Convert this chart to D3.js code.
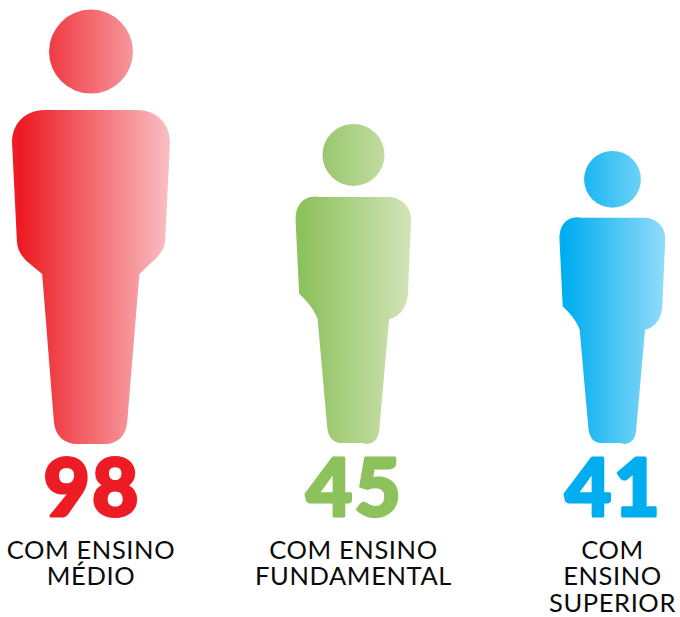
<!DOCTYPE html>
<html>
<head>
<meta charset="utf-8">
<script src="https://cdn.jsdelivr.net/npm/d3@7"></script>
<style>html,body{margin:0;padding:0;background:#fff}svg{display:block}</style>
</head>
<body>
<svg id="c" width="680" height="617"></svg>
<script>
const categories = ["medio", "fundamental", "superior"];
const values = [98, 45, 41];
const labelLines = [["COM ENSINO", "MÉDIO"], ["COM ENSINO", "FUNDAMENTAL"], ["COM", "ENSINO", "SUPERIOR"]];
const inkColors = ["#ed1c24", "#8dc15c", "#00aeef"];
const fadeColors = ["#f9c0c4", "#d2e4b8", "#92dcf9"];

const svg = d3.select("#c");
const baseY = 444;
const x = d3.scaleOrdinal().domain(categories).range([91, 353.5, 612.5]);
// Figure height grows with the value (read off the picture, not strictly proportional)
const h = d3.scaleLinear().domain([41, 45, 98]).range([293, 320, 436]);

// Glyph outlines: origin = bottom centre of a figure, unit = 1/1000 of its height
function glyphBroad(cx, k){
  const X = u => cx + u * k, Y = u => baseY + u * k;
  const p = d3.path();
  p.moveTo(X(-105), Y(-766));
  p.bezierCurveTo(X(-160), Y(-766), X(-182), Y(-725), X(-181), Y(-690));
  p.lineTo(X(-170), Y(-465));
  p.bezierCurveTo(X(-169), Y(-445), X(-160), Y(-432), X(-148), Y(-420));
  p.lineTo(X(-112), Y(-390));
  p.lineTo(X(-85), Y(-50));
  p.bezierCurveTo(X(-82), Y(-18), X(-60), Y(0), X(-32), Y(0));
  p.lineTo(X(32), Y(0));
  p.bezierCurveTo(X(60), Y(0), X(80), Y(-18), X(83), Y(-50));
  p.lineTo(X(111), Y(-390));
  p.lineTo(X(148), Y(-425));
  p.bezierCurveTo(X(160), Y(-437), X(169), Y(-450), X(170), Y(-465));
  p.lineTo(X(181), Y(-690));
  p.bezierCurveTo(X(182), Y(-725), X(160), Y(-766), X(105), Y(-766));
  p.closePath();
  return p.toString();
}
function glyphLean(cx, k){
  const X = u => cx + u * k, Y = u => baseY + u * k;
  const p = d3.path();
  p.moveTo(X(-105), Y(-772));
  p.bezierCurveTo(X(-130), Y(-778), X(-181), Y(-770), X(-181), Y(-700));
  p.lineTo(X(-170), Y(-470));
  p.bezierCurveTo(X(-150), Y(-450), X(-125), Y(-425), X(-112), Y(-390));
  p.lineTo(X(-82), Y(-50));
  p.bezierCurveTo(X(-78), Y(-20), X(-62), Y(-3), X(-40), Y(-3));
  p.lineTo(X(30), Y(-3));
  p.bezierCurveTo(X(40), Y(2), X(50), Y(-1), X(55), Y(-3));
  p.bezierCurveTo(X(70), Y(-8), X(80), Y(-25), X(81), Y(-50));
  p.lineTo(X(111), Y(-390));
  p.bezierCurveTo(X(150), Y(-398), X(168), Y(-435), X(170), Y(-470));
  p.lineTo(X(180), Y(-700));
  p.bezierCurveTo(X(181), Y(-745), X(145), Y(-772), X(108), Y(-772));
  p.closePath();
  return p.toString();
}
const glyphs = [glyphBroad, glyphLean, glyphLean];
const headRatio = [[-0.9, 0.0963], [-0.9034, 0.0969], [-0.9034, 0.0969]];
const halfWidth = 0.181;

const defs = svg.append("defs");
const rows = categories.map((c, i) => ({c, i, v: values[i]}));

const grad = defs.selectAll("linearGradient").data(rows).join("linearGradient")
  .attr("id", d => "g" + d.i)
  .attr("gradientUnits", "userSpaceOnUse")
  .attr("x1", d => x(d.c) - h(d.v) * halfWidth)
  .attr("x2", d => x(d.c) + h(d.v) * halfWidth)
  .attr("y1", 0).attr("y2", 0);
grad.append("stop").attr("offset", 0.06).attr("stop-color", d => inkColors[d.i]);
grad.append("stop").attr("offset", 1).attr("stop-color", d => fadeColors[d.i]);

const fig = svg.selectAll("g.fig").data(rows).join("g").attr("class", "fig");

fig.append("path")
  .attr("d", d => glyphs[d.i](x(d.c), h(d.v) / 1000))
  .attr("fill", d => `url(#g${d.i})`);

fig.append("circle")
  .attr("cx", d => x(d.c))
  .attr("cy", d => baseY + headRatio[d.i][0] * h(d.v))
  .attr("r", d => headRatio[d.i][1] * h(d.v))
  .attr("fill", d => `url(#g${d.i})`);

fig.append("text")
  .attr("x", d => x(d.c) + 1)
  .attr("y", 516)
  .attr("text-anchor", "middle")
  .attr("font-family", "Lato")
  .attr("font-weight", 900)
  .attr("font-size", 80)
  .attr("letter-spacing", 2)
  .attr("stroke", d => inkColors[d.i])
  .attr("stroke-width", 3)
  .attr("stroke-linejoin", "round")
  .attr("fill", d => inkColors[d.i])
  .text(d => d.v);

// One text per label, with a tspan per line (tight leading as in the reference)
const labels = fig.append("text")
  .attr("class", "lab")
  .attr("text-anchor", "middle")
  .attr("font-family", "Lato")
  .attr("font-size", 25.5)
  .attr("letter-spacing", 0.6)
  .attr("fill", "#0b0b0b");
labels.selectAll("tspan").data(d => labelLines[d.i].map(t => ({t, c: d.c}))).join("tspan")
  .attr("x", d => x(d.c))
  .attr("y", (d, j) => 558.5 + j * 26.5)
  .text(d => d.t);
</script>
</body>
</html>
